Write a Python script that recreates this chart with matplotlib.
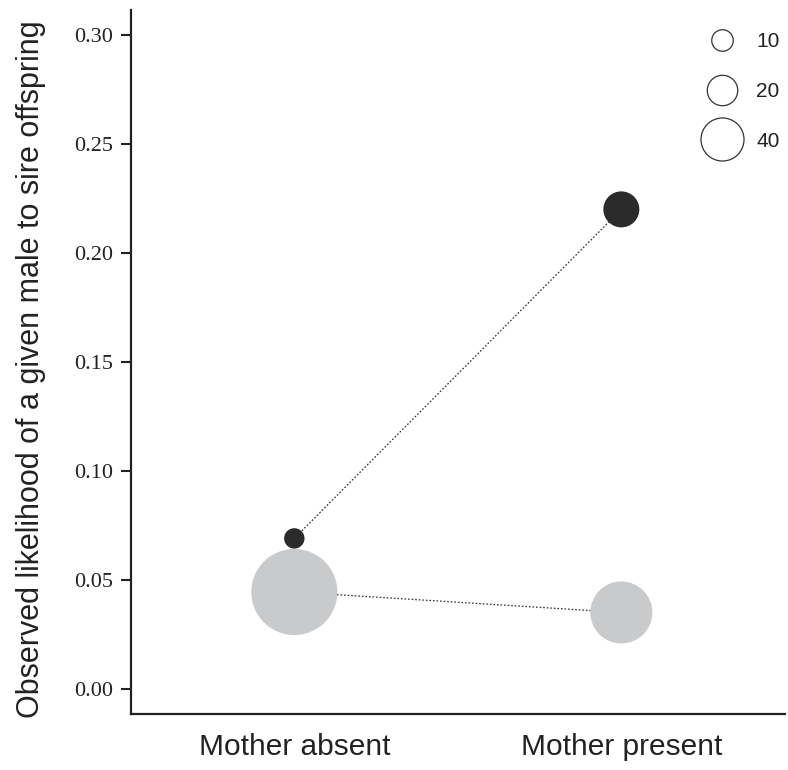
import numpy as np
import matplotlib
matplotlib.use("Agg")
import matplotlib.pyplot as plt
from matplotlib.lines import Line2D

# data
groups = ["Mother absent", "Mother present"]
dark_vals = [0.069, 0.220]
dark_n = [9, 28]
light_vals = [0.0444, 0.035]
light_n = [160, 83]
legend_n = [10, 20, 40]

dark_col = "#2b2b2b"
light_col = "#c9cacc"
ink = "#222222"

k = 4.9  # marker diameter (pt) per sqrt(n)

def area(n):
    return (k * np.sqrt(np.asarray(n, dtype=float))) ** 2

fig = plt.figure(figsize=(7.88, 7.7), dpi=100)
ax = fig.add_axes([0.166, 0.073, 0.83, 0.914])

x = np.arange(len(groups))
ax.plot(x, dark_vals, ls=(0, (1.2, 1.5)), color="#333333", lw=0.95, zorder=1)
ax.plot(x, light_vals, ls=(0, (1.2, 1.5)), color="#333333", lw=0.95, zorder=1)
ax.scatter(x, light_vals, s=area(light_n), color=light_col, edgecolors="none", zorder=2)
ax.scatter(x, dark_vals, s=area(dark_n), color=dark_col, edgecolors="none", zorder=3)

ax.set_xlim(-0.5, 1.5)
ax.set_ylim(-0.0115, 0.3115)
ax.set_yticks(np.arange(0, 0.31, 0.05))
ax.set_yticklabels([f"{v:.2f}" for v in np.arange(0, 0.31, 0.05)],
                   family="Liberation Serif", fontsize=16, color=ink)
ax.set_xticks(x)
ax.set_xticklabels(groups, family="Liberation Sans", fontsize=21.5, color=ink)
ax.tick_params(axis="y", length=7, width=1.5, color=ink, pad=6)
ax.tick_params(axis="x", length=0, pad=14)
ax.set_ylabel("Observed likelihood of a given male to sire offspring",
              family="Liberation Sans", fontsize=22, color=ink)
ax.yaxis.set_label_coords(-0.13, 0.49)

for side in ["top", "right"]:
    ax.spines[side].set_visible(False)
for side in ["left", "bottom"]:
    ax.spines[side].set_linewidth(1.6)
    ax.spines[side].set_color(ink)

handles = [Line2D([], [], ls="none", marker="o", markersize=k * np.sqrt(n),
                  markerfacecolor="white", markeredgecolor="#333333",
                  markeredgewidth=0.9) for n in legend_n]
leg = ax.legend(handles, [str(n) for n in legend_n], loc="upper right",
                bbox_to_anchor=(1.0, 0.976), frameon=False, fontsize=15,
                labelspacing=1.48, handletextpad=0.63, borderpad=0.25,
                borderaxespad=0)
for t in leg.get_texts():
    t.set_family("Liberation Sans")
    t.set_color(ink)

fig.savefig("out.png", dpi=100)
